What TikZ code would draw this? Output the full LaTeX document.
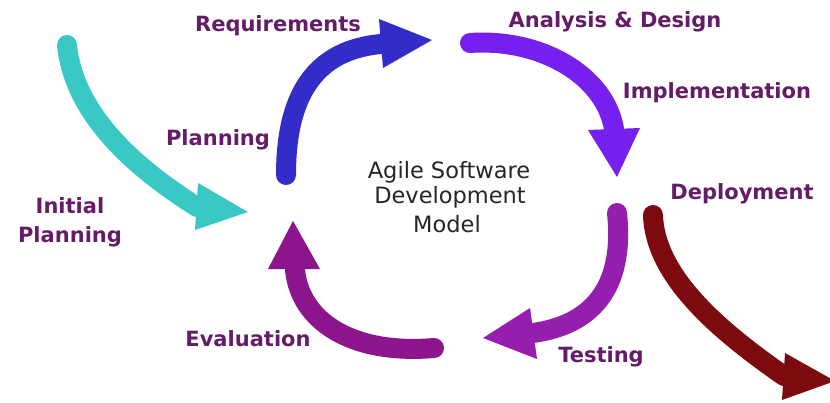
\documentclass[tikz,border=0pt]{standalone}
\usepackage{fontspec}
\newfontfamily\lblfont{DejaVu Sans}
\definecolor{tealc}{RGB}{58,200,196}
\definecolor{bluec}{RGB}{52,44,200}
\definecolor{violc}{RGB}{118,32,240}
\definecolor{testc}{RGB}{150,30,175}
\definecolor{evalc}{RGB}{140,20,140}
\definecolor{depc}{RGB}{125,10,15}
\definecolor{lblc}{RGB}{100,28,105}
\begin{document}
\begin{tikzpicture}[x=1pt,y=-1pt,
  body/.style={line width=20pt, line cap=round},
  lbl/.style={font=\lblfont\bfseries\fontsize{21}{25}\selectfont, text=lblc, anchor=base, inner sep=0pt},
  ctr/.style={font=\lblfont\fontsize{22.5}{27}\selectfont, text=black!85, anchor=base, inner sep=0pt}]
\useasboundingbox (0,0) rectangle (830,402);
\fill[white] (0,0) rectangle (830,402);
\begin{scope}
\clip (0,0) rectangle (830,402);
% Initial planning arrow (teal)
\coordinate (tS) at (67,45); \coordinate (tB) at (197,207);
\coordinate (tL) at (198,183); \coordinate (tR) at (195,230); \coordinate (tT) at (248,212);
\draw[body, tealc] (tS) .. controls (75,125) and (155,180) .. (tB);
\fill[tealc] (tL) -- (tT) -- (tR) -- cycle;
% Requirements arrow (blue)
\coordinate (bS) at (286,175); \coordinate (bB) at (381,44);
\coordinate (bL) at (379,19); \coordinate (bR) at (383,68); \coordinate (bT) at (432,40);
\draw[body, bluec] (bS) .. controls (286,95) and (315,50) .. (bB);
\fill[bluec] (bL) -- (bT) -- (bR) -- cycle;
% Analysis arrow (violet)
\coordinate (vS) at (470,43); \coordinate (vB) at (614,129);
\coordinate (vL) at (588,130); \coordinate (vR) at (640,128); \coordinate (vT) at (617,177);
\draw[body, violc] (vS) .. controls (540,38) and (605,75) .. (vB);
\fill[violc] (vL) -- (vT) -- (vR) -- cycle;
% Testing arrow
\coordinate (sS) at (617,213); \coordinate (sB) at (533,333);
\coordinate (sL) at (530,308); \coordinate (sR) at (537,359); \coordinate (sT) at (483,338);
\draw[body, testc] (sS) .. controls (625,290) and (590,325) .. (sB);
\fill[testc] (sL) -- (sT) -- (sR) -- cycle;
% Evaluation arrow
\coordinate (eS) at (434,348); \coordinate (eB) at (295,270);
\coordinate (eL) at (268,269); \coordinate (eR) at (320,269); \coordinate (eT) at (293,221);
\draw[body, evalc] (eS) .. controls (350,355) and (300,320) .. (eB);
\fill[evalc] (eL) -- (eT) -- (eR) -- cycle;
% Deployment arrow
\coordinate (dS) at (653,215); \coordinate (dB) at (784,376);
\coordinate (dL) at (785,353); \coordinate (dR) at (782,400); \coordinate (dT) at (835,381);
\draw[body, depc] (dS) .. controls (655,280) and (727,336) .. (dB);
\fill[depc] (dL) -- (dT) -- (dR) -- cycle;
\end{scope}
% Labels
\node[lbl] (req) at (278,31) {Requirements};
\node[lbl] (ana) at (615,27) {Analysis \& Design};
\node[lbl] (imp) at (717,98) {Implementation};
\node[lbl] (dep) at (742,199) {Deployment};
\node[lbl] (pla) at (218,145) {Planning};
\node[lbl] (ini1) at (70,213) {Initial};
\node[lbl] (ini2) at (70,242) {Planning};
\node[lbl] (eva) at (248,346) {Evaluation};
\node[lbl] (tes) at (601,362) {Testing};
% Centre
\node[ctr] (c1) at (449,178) {Agile Software};
\node[ctr] (c2) at (450,203) {Development};
\node[ctr] (c3) at (447,232) {Model};
\end{tikzpicture}
\end{document}
